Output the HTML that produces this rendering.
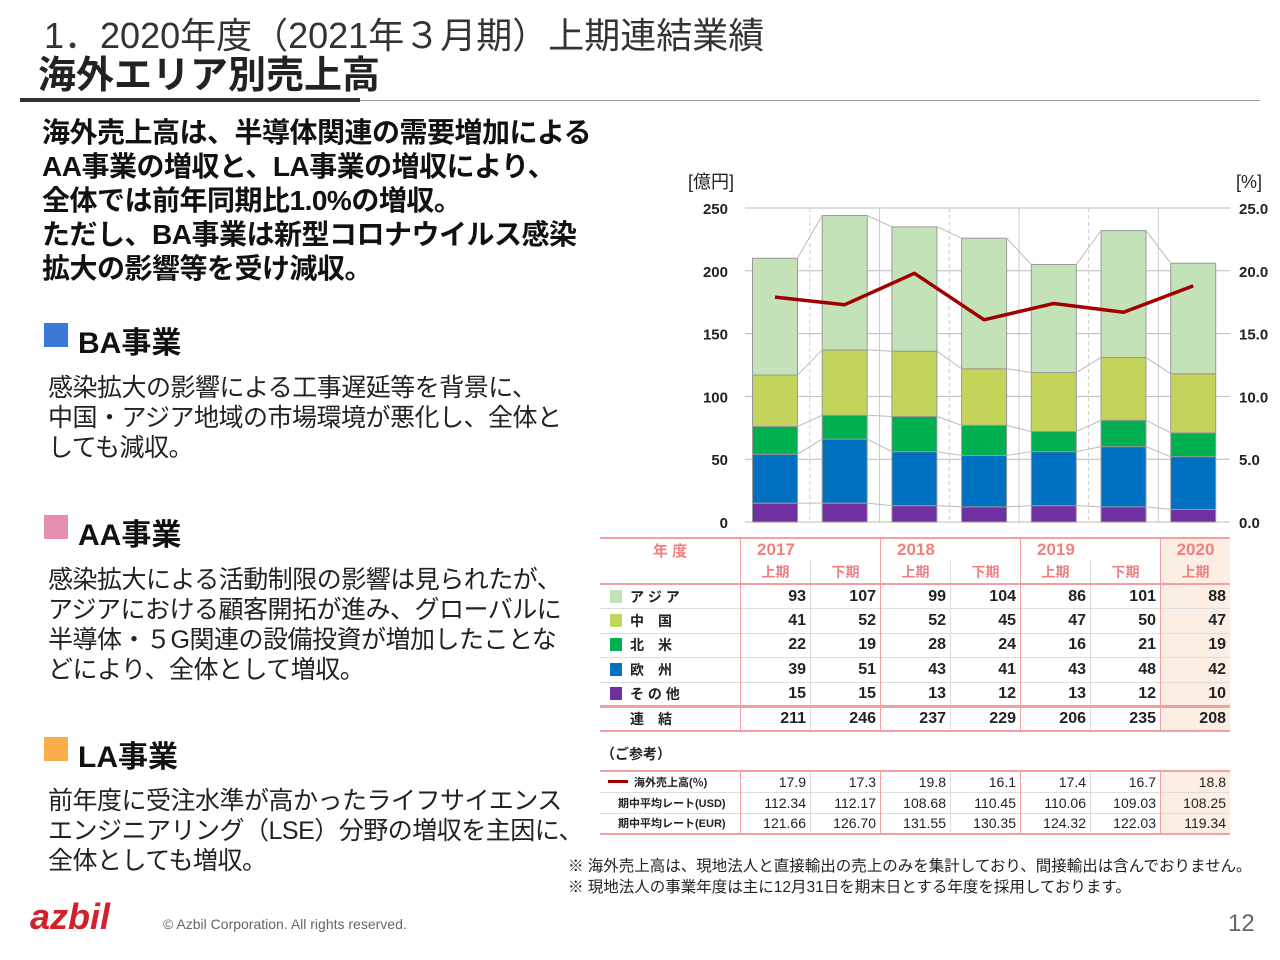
<!DOCTYPE html>
<html><head><meta charset="utf-8">
<style>
body{margin:0;width:1280px;height:960px;background:#fff;position:relative;overflow:hidden;font-family:"Liberation Sans","Noto Sans CJK JP",sans-serif;color:#111}
.a{position:absolute;white-space:nowrap}
.h{font-weight:bold;font-size:28px;line-height:34px;letter-spacing:-0.5px}
.p{font-size:25px;line-height:30px;color:#222;letter-spacing:-0.5px}
.sec{font-weight:bold;font-size:30px}
.sq{position:absolute;width:24px;height:24px}
table{border-collapse:collapse}
</style></head><body>
<div class="a" style="left:44px;top:7px;font-size:36px;color:#333">1．2020年度（2021年３月期）上期連結業績</div>
<div class="a" style="left:38px;top:44px;font-size:38px;font-weight:bold;color:#222">海外エリア別売上高</div>
<div class="a" style="left:20px;top:98px;width:340px;height:4px;background:#333"></div>
<div class="a" style="left:360px;top:100px;width:900px;height:1px;background:#999"></div>
<div class="a h" style="left:42px;top:116px">海外売上高は、半導体関連の需要増加による<br>AA事業の増収と、LA事業の増収により、<br>全体では前年同期比1.0%の増収。<br>ただし、BA事業は新型コロナウイルス感染<br>拡大の影響等を受け減収。</div>
<div class="sq" style="left:44px;top:323px;background:#3b78d8"></div>
<div class="a sec" style="left:78px;top:318px">BA事業</div>
<div class="a p" style="left:48px;top:373px">感染拡大の影響による工事遅延等を背景に、<br>中国・アジア地域の市場環境が悪化し、全体と<br>しても減収。</div>
<div class="sq" style="left:44px;top:515px;background:#e48fb0"></div>
<div class="a sec" style="left:78px;top:510px">AA事業</div>
<div class="a p" style="left:48px;top:565px">感染拡大による活動制限の影響は見られたが、<br>アジアにおける顧客開拓が進み、グローバルに<br>半導体・５G関連の設備投資が増加したことな<br>どにより、全体として増収。</div>
<div class="sq" style="left:44px;top:737px;background:#f8ae4c"></div>
<div class="a sec" style="left:78px;top:732px">LA事業</div>
<div class="a p" style="left:48px;top:786px">前年度に受注水準が高かったライフサイエンス<br>エンジニアリング（LSE）分野の増収を主因に、<br>全体としても増収。</div>
<div class="a" style="left:568px;top:856px;font-size:15.5px;line-height:21px;color:#222">※ 海外売上高は、現地法人と直接輸出の売上のみを集計しており、間接輸出は含んでおりません。<br>※ 現地法人の事業年度は主に12月31日を期末日とする年度を採用しております。</div>
<div class="a" style="left:30px;top:896px;font-size:36px;font-weight:bold;font-style:italic;color:#d4202b">azbil</div>
<div class="a" style="left:163px;top:916px;font-size:14px;color:#666">© Azbil Corporation. All rights reserved.</div>
<div class="a" style="left:1228px;top:910px;font-size:24px;color:#666">12</div>

<svg class="a" style="left:0;top:0" width="1280" height="960" id="ch"></svg>

<div class="a" style="left:600px;top:537px" id="tb"></div>

<script>
const periods=["2017上期","2017下期","2018上期","2018下期","2019上期","2019下期","2020上期"];
const years=["2017","2018","2019","2020"];
const halves=["上期","下期","上期","下期","上期","下期","上期"];
const asia=[93,107,99,104,86,101,88];
const china=[41,52,52,45,47,50,47];
const na=[22,19,28,24,16,21,19];
const eu=[39,51,43,41,43,48,42];
const other=[15,15,13,12,13,12,10];
const total=[211,246,237,229,206,235,208];
const ratio=[17.9,17.3,19.8,16.1,17.4,16.7,18.8];
const usd=["112.34","112.17","108.68","110.45","110.06","109.03","108.25"];
const eur=["121.66","126.70","131.55","130.35","124.32","122.03","119.34"];
const leftTicks=[0,50,100,150,200,250];
const rightTicks=["0.0","5.0","10.0","15.0","20.0","25.0"];

const NS="http://www.w3.org/2000/svg";
const svg=document.getElementById('ch');
const X0=745,X1=1230,Y0=522,Y1=208;
const y=v=>Y0-(v/250)*(Y0-Y1);
const yr=v=>Y0-(v/25)*(Y0-Y1);
const cx=i=>775+i*69.7;
const BW=45;
function el(t,a,txt){const e=document.createElementNS(NS,t);for(const k in a)e.setAttribute(k,a[k]);if(txt!==undefined)e.textContent=txt;svg.appendChild(e);return e;}
leftTicks.forEach((v,i)=>{
 const g=el('line',{x1:X0,x2:X1,y1:y(v),y2:y(v),stroke:'#bbb','stroke-width':1});
 
 
 const t=el('text',{x:728,y:y(v)+6,'text-anchor':'end','font-size':15,'font-weight':'bold',fill:'#222'},v);
 
 
 const r=el('text',{x:1239,y:y(v)+6,'font-size':15,'font-weight':'bold',fill:'#222'},rightTicks[i]);
 
 
});
for(let i=0;i<6;i++){
 const xx=(cx(i)+cx(i+1))/2;
 const d=el('line',{x1:xx,x2:xx,y1:Y1,y2:Y0,stroke:'#ccc','stroke-width':1,'stroke-dasharray':i%2==0?'4,3':''});
 
 
}
let t1=el('text',{x:688,y:188,'font-size':18,fill:'#222'},'[億円]');

let t2=el('text',{x:1236,y:188,'font-size':18,fill:'#222'},'[%]');

const series=[[other,'#7030a0','other'],[eu,'#0070c0','europe'],[na,'#00b050','north-america'],[china,'#c4d35a','china'],[asia,'#c3e2b8','asia']];
const cum=periods.map(()=>0);
const tops=series.map(()=>[]);
series.forEach(([arr,col,nm],s)=>{
 periods.forEach((p,i)=>{
  const b=cum[i],t=b+arr[i];
  const r=el('rect',{x:cx(i)-BW/2,y:y(t),width:BW,height:y(b)-y(t),fill:col,stroke:'#999','stroke-width':1});
  
  
  cum[i]=t;tops[s].push(t);
 });
});
tops.forEach(tp=>{for(let i=0;i<6;i++){
 const c=el('line',{x1:cx(i)+BW/2,x2:cx(i+1)-BW/2,y1:y(tp[i]),y2:y(tp[i+1]),stroke:'#bbb','stroke-width':1});
 
 
}});
const ln=el('polyline',{points:ratio.map((v,i)=>cx(i)+','+yr(v)).join(' '),fill:'none',stroke:'#a00000','stroke-width':3.5,'stroke-linejoin':'round'});



// table
const pk='#f4a0a0',pkT='#f08080';
const W0=138,CW=70;
let h='<table style="font-size:16px;font-weight:bold;color:#222">';
const cs=(i,extra)=>`style="width:${CW-9}px;padding:0 4px;text-align:right;border-left:1px solid ${i%2==0?pk:'#ddd'};${i==6?'background:#fdeee4;':''}${extra||''}"`;
h+=`<tr style="height:21px"><td rowspan="2" style="width:${W0}px;color:${pkT};text-align:center;vertical-align:top;border-top:2px solid ${pk};border-bottom:2px solid ${pk};font-size:15px">年 度</td>`;
years.forEach((yv,k)=>{h+=`<td colspan="${k<3?2:1}" style="color:${pkT};font-size:17px;padding-left:16px;border-top:2px solid ${pk};border-left:1px solid ${pk};${k==3?'background:#fdeee4;text-align:center;padding:0':''}">${yv}</td>`});
h+='</tr><tr style="height:18px">';
halves.forEach((hv,i)=>{h+=`<td style="color:${pkT};font-size:14px;text-align:center;border-bottom:2px solid ${pk};border-left:1px solid ${i%2==0?pk:'#ddd'};${i==6?'background:#fdeee4;':''}">${hv}</td>`});
h+='</tr>';
const rows=[['ア ジ ア','#c3e2b8',asia],['中　国','#c4d35a',china],['北　米','#00b050',na],['欧　州','#0070c0',eu],['そ の 他','#7030a0',other]];
rows.forEach(([lab,col,arr],r)=>{
 h+=`<tr style="height:24.5px;border-bottom:${r==4?'3px solid '+pk:'1px solid #ddd'}"><td style="font-size:14px;padding-left:10px"><span style="display:inline-block;width:12px;height:13px;background:${col};margin-right:8px;vertical-align:-1px"></span>${lab}</td>`;
 arr.forEach((v,i)=>{h+=`<td ${cs(i)}>${v}</td>`});h+='</tr>';
});
h+=`<tr style="height:21px;border-bottom:2px solid ${pk}"><td style="font-size:14px;padding-left:30px">連　結</td>`;
total.forEach((v,i)=>{h+=`<td ${cs(i)}>${v}</td>`});h+='</tr>';
h+=`<tr style="height:40px"><td colspan="8" style="font-size:14px;vertical-align:bottom;padding-bottom:6px">（ご参考）</td></tr>`;
const ref=[['<span style="display:inline-block;width:20px;height:3px;background:#a00000;vertical-align:3px;margin-right:6px"></span>海外売上高(％)',ratio.map(v=>v.toFixed(1))],['期中平均レート(USD)',usd],['期中平均レート(EUR)',eur]];
ref.forEach(([lab,arr],r)=>{
 h+=`<tr style="height:21px;${r==0?'border-top:2px solid '+pk+';':''}border-bottom:${r==2?'2px solid '+pk:'1px solid #ddd'}"><td style="font-size:11px;padding-left:${r==0?8:18}px">${lab}</td>`;
 arr.forEach((v,i)=>{h+=`<td ${cs(i,'font-size:14px;font-weight:normal;')}>${v}</td>`});h+='</tr>';
});
h+='</table>';
document.getElementById('tb').innerHTML=h;
</script>
</body></html>
